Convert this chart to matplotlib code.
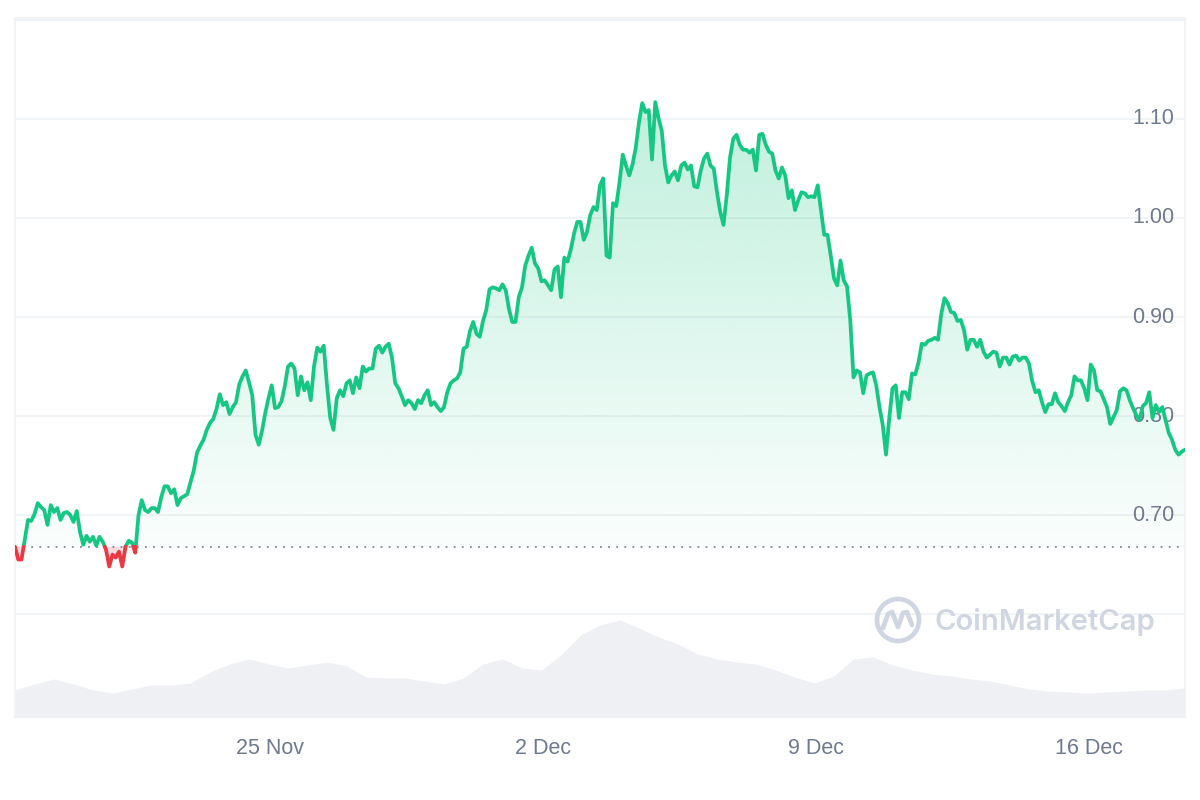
import numpy as np
import matplotlib
matplotlib.use("Agg")
import matplotlib.pyplot as plt
import matplotlib.dates as mdates
import matplotlib.transforms as mtrans
from matplotlib.patches import Circle
from matplotlib.lines import Line2D
import pandas as pd

# ---------------- data ----------------
price_start = "2024-11-18 11:00"
price_step = "2h"
prices = [
    0.668, 0.655, 0.655, 0.675, 0.695, 0.694, 0.701, 0.712, 0.708, 0.705, 0.690, 0.710,
    0.703, 0.707, 0.695, 0.702, 0.703, 0.700, 0.693, 0.704, 0.683, 0.670, 0.679, 0.673,
    0.678, 0.669, 0.678, 0.673, 0.665, 0.648, 0.660, 0.657, 0.663, 0.648, 0.668, 0.674,
    0.672, 0.662, 0.700, 0.715, 0.705, 0.703, 0.707, 0.707, 0.703, 0.718, 0.729, 0.729,
    0.722, 0.726, 0.710, 0.717, 0.719, 0.721, 0.733, 0.745, 0.763, 0.770, 0.776, 0.786,
    0.793, 0.797, 0.807, 0.822, 0.811, 0.814, 0.802, 0.809, 0.814, 0.832, 0.840, 0.846,
    0.834, 0.821, 0.781, 0.771, 0.785, 0.803, 0.818, 0.831, 0.808, 0.809, 0.815, 0.830,
    0.850, 0.853, 0.848, 0.821, 0.840, 0.826, 0.834, 0.816, 0.850, 0.869, 0.865, 0.871,
    0.831, 0.798, 0.786, 0.818, 0.826, 0.820, 0.833, 0.836, 0.823, 0.839, 0.828, 0.850,
    0.845, 0.848, 0.848, 0.868, 0.871, 0.864, 0.870, 0.873, 0.859, 0.833, 0.828, 0.820,
    0.811, 0.816, 0.813, 0.807, 0.816, 0.813, 0.821, 0.826, 0.811, 0.814, 0.809, 0.805,
    0.809, 0.824, 0.833, 0.836, 0.838, 0.844, 0.868, 0.870, 0.886, 0.895, 0.883, 0.880,
    0.896, 0.907, 0.928, 0.930, 0.929, 0.927, 0.933, 0.927, 0.908, 0.895, 0.895, 0.920,
    0.930, 0.952, 0.962, 0.970, 0.954, 0.949, 0.936, 0.937, 0.932, 0.927, 0.948, 0.951,
    0.920, 0.960, 0.956, 0.968, 0.984, 0.996, 0.996, 0.978, 0.986, 1.003, 1.011, 1.008,
    1.033, 1.040, 0.962, 0.960, 1.015, 1.012, 1.036, 1.064, 1.053, 1.043, 1.054, 1.071,
    1.097, 1.116, 1.107, 1.109, 1.059, 1.117, 1.101, 1.088, 1.053, 1.036, 1.043, 1.047,
    1.038, 1.053, 1.056, 1.049, 1.053, 1.032, 1.031, 1.048, 1.060, 1.065, 1.053, 1.050,
    1.026, 1.006, 0.993, 1.023, 1.061, 1.080, 1.084, 1.074, 1.069, 1.069, 1.066, 1.069,
    1.048, 1.084, 1.085, 1.074, 1.067, 1.065, 1.048, 1.040, 1.051, 1.043, 1.020, 1.028,
    1.008, 1.018, 1.026, 1.025, 1.021, 1.022, 1.021, 1.033, 1.008, 0.983, 0.983, 0.962,
    0.939, 0.932, 0.957, 0.937, 0.931, 0.897, 0.839, 0.846, 0.844, 0.823, 0.841, 0.843,
    0.844, 0.831, 0.809, 0.791, 0.761, 0.798, 0.828, 0.831, 0.798, 0.824, 0.824, 0.817,
    0.843, 0.842, 0.854, 0.873, 0.872, 0.876, 0.877, 0.879, 0.877, 0.903, 0.919, 0.914,
    0.905, 0.904, 0.896, 0.897, 0.887, 0.867, 0.877, 0.877, 0.870, 0.877, 0.865, 0.859,
    0.862, 0.865, 0.864, 0.850, 0.859, 0.859, 0.852, 0.860, 0.861, 0.856, 0.859, 0.859,
    0.853, 0.835, 0.824, 0.826, 0.814, 0.804, 0.812, 0.812, 0.823, 0.814, 0.810, 0.805,
    0.814, 0.821, 0.840, 0.836, 0.836, 0.828, 0.816, 0.852, 0.846, 0.826, 0.825, 0.817,
    0.809, 0.792, 0.799, 0.806, 0.825, 0.828, 0.826, 0.816, 0.808, 0.801, 0.796, 0.810,
    0.813, 0.824, 0.798, 0.811, 0.804, 0.809, 0.796, 0.783, 0.776, 0.766, 0.761, 0.764,
    0.766,
]

volume_start = "2024-11-18 11:00"
volume_step = "12h"
volumes_musd = [
    27, 33, 38, 33, 27, 24, 28, 32, 32, 34,
    45, 53, 58, 53, 49, 52, 55, 51, 40, 39,
    39, 36, 33, 39, 53, 58, 49, 47, 62, 82,
    92, 97, 89, 80, 73, 63, 58, 55, 53, 47,
    40, 34, 41, 58, 60, 52, 47, 43, 41, 38,
    36, 32, 28, 26, 25, 24, 25, 26, 27, 27,
    29,
]

ytick_values = [0.70, 0.80, 0.90, 1.00, 1.10]
ytick_labels = ["0.70", "0.80", "0.90", "1.00", "1.10"]
grid_values = [0.60, 0.70, 0.80, 0.90, 1.00, 1.10, 1.20]
xtick_dates = ["2024-11-25", "2024-12-02", "2024-12-09", "2024-12-16"]
xtick_labels = ["25 Nov", "2 Dec", "9 Dec", "16 Dec"]

# ---------------- style ----------------
GREEN = "#16c784"
RED = "#ea3943"
TEXT = "#6f7a8e"
GRID = "#eff2f5"
WM = "#d0d6e1"
plt.rcParams["font.family"] = ["Liberation Sans", "DejaVu Sans"]

fig = plt.figure(figsize=(12, 8), dpi=100)
fig.patch.set_facecolor("white")

rect = [15 / 1200, 83 / 800, 1170 / 1200, 699 / 800]
axv = fig.add_axes(rect, zorder=0)
ax = fig.add_axes(rect, zorder=1)
ax.patch.set_alpha(0)

t = mdates.date2num(pd.date_range(price_start, periods=len(prices), freq=price_step))
p = np.array(prices, dtype=float)
base = p[0]

tv = mdates.date2num(pd.date_range(volume_start, periods=len(volumes_musd), freq=volume_step))
v = np.array(volumes_musd, dtype=float)

# volume area
axv.fill_between(tv, v, 0, color="#eef0f4", lw=0)
axv.set_xlim(t[0], t[-1])
axv.set_ylim(0, 699)
axv.axis("off")

# insert baseline crossings so the colour change is exact
xs, ys = [t[0]], [p[0]]
for i in range(1, len(p)):
    a, b = p[i - 1] - base, p[i] - base
    if a * b < 0:
        f = a / (a - b)
        xs.append(t[i - 1] + f * (t[i] - t[i - 1]))
        ys.append(base)
    xs.append(t[i])
    ys.append(p[i])
xs = np.array(xs)
ys = np.array(ys)

ymin, ymax = 0.496, 1.202
ax.set_xlim(t[0], t[-1])
ax.set_ylim(ymin, ymax)

# grid
for g in grid_values:
    ax.axhline(g, color=GRID, lw=1.2, zorder=0)

# green gradient fill
gpart = np.maximum(ys, base)
poly = ax.fill_between(xs, gpart, base, facecolor="none", edgecolor="none")
top = p.max()
n = 256
grad = np.zeros((n, 1, 4))
rgb = matplotlib.colors.to_rgb(GREEN)
grad[:, 0, 0] = rgb[0]
grad[:, 0, 1] = rgb[1]
grad[:, 0, 2] = rgb[2]
grad[:, 0, 3] = np.linspace(0.02, 0.27, n)
im = ax.imshow(grad, extent=[t[0], t[-1], base, top], origin="lower",
               aspect="auto", zorder=1, interpolation="bilinear")
im.set_clip_path(poly.get_paths()[0], transform=ax.transData)

# red fill
rpart = np.minimum(ys, base)
ax.fill_between(xs, rpart, base, facecolor=RED, alpha=0.18, lw=0, zorder=1)

# baseline dotted
ax.axhline(base, color="#808a9d", lw=1.3, ls=(0, (1, 3.5)), zorder=2)

# y tick labels (inside, right)
blend_y = mtrans.blended_transform_factory(ax.transAxes, ax.transData)
for val, lab in zip(ytick_values, ytick_labels):
    ax.text((1174 - 15) / 1170, val, lab, transform=blend_y, ha="right", va="center",
            fontsize=15.5, color=TEXT, zorder=2)

# price line
green_line = np.where(ys >= base, ys, np.nan)
red_line = np.where(ys <= base, ys, np.nan)
ax.plot(xs, green_line, color=GREEN, lw=2.7, zorder=4, solid_joinstyle="round",
        solid_capstyle="round")
ax.plot(xs, red_line, color=RED, lw=2.7, zorder=4, solid_joinstyle="round",
        solid_capstyle="round")

ax.set_ylim(ymin, ymax)
ax.set_xlim(t[0], t[-1])

# x tick labels
blend_x = mtrans.blended_transform_factory(ax.transData, ax.transAxes)
for d, lab in zip(xtick_dates, xtick_labels):
    ax.text(mdates.date2num(pd.Timestamp(d)), -31 / 699, lab, transform=blend_x,
            ha="center", va="center", fontsize=15.5, color=TEXT)

ax.set_xticks([])
ax.set_yticks([])
for s in ax.spines.values():
    s.set_color(GRID)
    s.set_linewidth(1.2)

# watermark
fig.text(935 / 1200, 1 - 622 / 800, "CoinMarketCap", fontsize=21, fontweight="semibold",
         family=["Inter", "DejaVu Sans"], color=WM, ha="left", va="center")
ring = Circle((898, 800 - 620), 21, fill=False, lw=3.4, edgecolor=WM)
ring.set_transform(mtrans.IdentityTransform())
fig.patches.append(ring)
wx = [883, 888, 892, 898, 903, 907, 912]
wy = [628, 614, 612, 627, 613, 612, 625]
fig.lines.append(Line2D(wx, [800 - y for y in wy], transform=mtrans.IdentityTransform(),
                        color=WM, lw=3.4, solid_joinstyle="round", solid_capstyle="round"))

fig.savefig("out.png", dpi=100, facecolor="white")
